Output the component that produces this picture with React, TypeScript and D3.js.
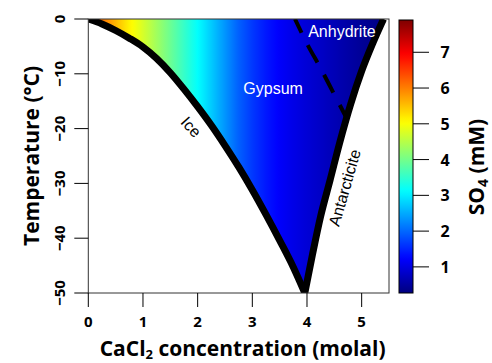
import React from 'react';
import * as d3 from 'd3';

// ---------- data ----------
const xTicks = [0, 1, 2, 3, 4, 5];
const yTicks = [0, -10, -20, -30, -40, -50];
const cbTicks = [1, 2, 3, 4, 5, 6, 7];

// Ice liquidus (CaCl2 molal, °C)
const iceConc = [0, 0.25, 0.5, 0.75, 1.0, 1.25, 1.5, 1.75, 2.0, 2.25, 2.5, 2.75, 3.0, 3.25, 3.5, 3.75, 3.96];
const iceTemp = [0, -0.9, -2.1, -3.5, -5.1, -7.2, -9.8, -12.8, -16.0, -19.4, -23.1, -27.0, -31.2, -35.7, -40.4, -45.3, -50];

// Antarcticite liquidus
const antConc = [3.96, 4.1, 4.25, 4.42, 4.6, 4.8, 5.0, 5.2, 5.4];
const antTemp = [-50, -43, -36, -29.5, -22.5, -15.5, -9.5, -4.5, 0];

// Gypsum / anhydrite boundary
const gypConc = [3.78, 4.0, 4.25, 4.5, 4.72];
const gypTemp = [0, -4.5, -9, -13.8, -18];

// SO4 (mM) along CaCl2 concentration
const so4Conc = [0, 0.25, 0.5, 0.75, 1.0, 1.25, 1.5, 1.75, 2.0, 2.25, 2.5, 2.75, 3.0, 3.25, 3.5, 3.75, 4.0, 4.25, 4.5, 4.75, 5.0, 5.25, 5.5];
const so4Val = [6.8, 6.1, 5.6, 5.15, 4.75, 4.35, 3.95, 3.55, 3.15, 2.75, 2.35, 1.95, 1.65, 1.4, 1.2, 1.05, 0.92, 0.8, 0.68, 0.56, 0.45, 0.35, 0.28];

const so4Domain = [0.27, 7.93];
const jetColors = ['#00007F', '#0000FF', '#007FFF', '#00FFFF', '#7FFF7F', '#FFFF00', '#FF7F00', '#FF0000', '#7F0000'];

// ---------- layout ----------
const W = 492, H = 363;
const PL = 88.3, PR = 389, PT = 19, PB = 293;
const CBL = 399, CBR = 413;

export default function App() {
  const x = d3.scaleLinear().domain([0, 5.5]).range([PL, PR]);
  const y = d3.scaleLinear().domain([-50, 0]).range([PB, PT]);
  const jet = d3.scaleLinear<string>().domain(jetColors.map((_, i) => i / 8)).range(jetColors).interpolate(d3.interpolateRgb);
  const cnorm = d3.scaleLinear().domain(so4Domain).range([0, 1]).clamp(true);
  const colorOf = (v: number) => jet(cnorm(v));
  const so4At = d3.scaleLinear().domain(so4Conc).range(so4Val);
  const cbY = d3.scaleLinear().domain(so4Domain).range([PB, PT]);

  const ice = iceConc.map((c, i) => [c, iceTemp[i]] as [number, number]);
  const ant = antConc.map((c, i) => [c, antTemp[i]] as [number, number]);
  const gyp = gypConc.map((c, i) => [c, gypTemp[i]] as [number, number]);

  const line = d3.line<[number, number]>().x(d => x(d[0])).y(d => y(d[1])).curve(d3.curveMonotoneX);
  const iceD = line(ice) as string;
  const antD = line(ant) as string;
  const gypD = line(gyp) as string;
  const regionD = iceD + antD.replace(/^M/, 'L') + 'Z';

  const fieldStops = d3.range(0, 5.5001, 0.05).map(c => ({ off: c / 5.5, col: colorOf(so4At(c)) }));
  const cbStops = d3.range(0, 1.0001, 0.02).map(t => ({ off: t, col: jet(t) }));

  const bold = "'Open Sans', 'DejaVu Sans', sans-serif";
  const reg = "'Liberation Sans', Arial, sans-serif";

  return (
    <svg width={W} height={H} style={{ position: 'absolute', left: 0, top: 0, background: '#fff' }}>
      <defs>
        <linearGradient id="field" gradientUnits="userSpaceOnUse" x1={x(0)} x2={x(5.5)} y1={0} y2={0}>
          {fieldStops.map((s, i) => <stop key={i} offset={s.off} stopColor={s.col} />)}
        </linearGradient>
        <linearGradient id="cbar" x1="0" x2="0" y1="1" y2="0">
          {cbStops.map((s, i) => <stop key={i} offset={s.off} stopColor={s.col} />)}
        </linearGradient>
        <clipPath id="plotClip">
          <rect x={PL} y={PT} width={PR - PL} height={PB - PT} />
        </clipPath>
      </defs>

      <g clipPath="url(#plotClip)">
        <path d={regionD} fill="url(#field)" />
        <path d={gypD} fill="none" stroke="#000" strokeWidth={4} strokeDasharray="20,14" strokeDashoffset={5} />
        <path d={iceD} fill="none" stroke="#000" strokeWidth={7} />
        <path d={antD} fill="none" stroke="#000" strokeWidth={7} />
      </g>

      {/* frame */}
      <rect x={PL} y={PT} width={PR - PL} height={PB - PT} fill="none" stroke="#333" strokeWidth={1} />

      {/* x axis */}
      {xTicks.map(t => (
        <g key={'x' + t}>
          <line x1={x(t)} x2={x(t)} y1={PB} y2={PB + 14} stroke="#000" />
          <text x={x(t)} y={327} textAnchor="middle" fontFamily={bold} fontWeight={700} fontSize={15}>{t}</text>
        </g>
      ))}
      <text x={(PL + PR) / 2 + 4} y={356} textAnchor="middle" fontFamily={bold} fontWeight={700} fontSize={21}>
        CaCl<tspan dy={3} fontSize={13}>2</tspan><tspan dy={-3}> concentration (molal)</tspan>
      </text>

      {/* y axis */}
      {yTicks.map(t => (
        <g key={'y' + t}>
          <line x1={PL - 14} x2={PL} y1={y(t)} y2={y(t)} stroke="#000" />
          <text transform={`translate(65,${y(t)}) rotate(-90)`} textAnchor="middle" fontFamily={bold} fontWeight={700} fontSize={15}>
            {t === 0 ? '0' : '\u2212' + Math.abs(t)}
          </text>
        </g>
      ))}
      <text transform={`translate(39,${(PT + PB) / 2}) rotate(-90)`} textAnchor="middle" fontFamily={bold} fontWeight={700} fontSize={21}>
        Temperature (°C)
      </text>

      {/* labels */}
      <text x={x(3.38)} y={y(-12.6)} textAnchor="middle" dominantBaseline="central" fill="#fff" fontFamily={reg} fontSize={16}>Gypsum</text>
      <text x={x(4.64)} y={y(-2.2)} textAnchor="middle" dominantBaseline="central" fill="#fff" fontFamily={reg} fontSize={16}>Anhydrite</text>
      <text transform={`translate(${x(1.88)},${y(-19.7)}) rotate(48)`} textAnchor="middle" dominantBaseline="central" fill="#000" fontFamily={reg} fontSize={16}>Ice</text>
      <text transform={`translate(${x(4.69)},${y(-30.8)}) rotate(-74)`} textAnchor="middle" dominantBaseline="central" fill="#000" fontFamily={reg} fontSize={16}>Antarcticite</text>

      {/* colorbar */}
      <rect x={CBL} y={PT + 1} width={CBR - CBL} height={PB - PT - 1} fill="url(#cbar)" stroke="#000" strokeWidth={1} />
      {cbTicks.map(t => (
        <g key={'c' + t}>
          <line x1={CBR} x2={CBR + 16} y1={cbY(t)} y2={cbY(t)} stroke="#000" />
          <text x={445} y={cbY(t)} textAnchor="middle" dominantBaseline="central" fontFamily={bold} fontWeight={700} fontSize={16}>{t}</text>
        </g>
      ))}
      <text transform={`translate(484,167) rotate(-90)`} textAnchor="middle" fontFamily={bold} fontWeight={700} fontSize={21}>
        SO<tspan dy={4} fontSize={14}>4</tspan><tspan dy={-4}> (mM)</tspan>
      </text>
    </svg>
  );
}
